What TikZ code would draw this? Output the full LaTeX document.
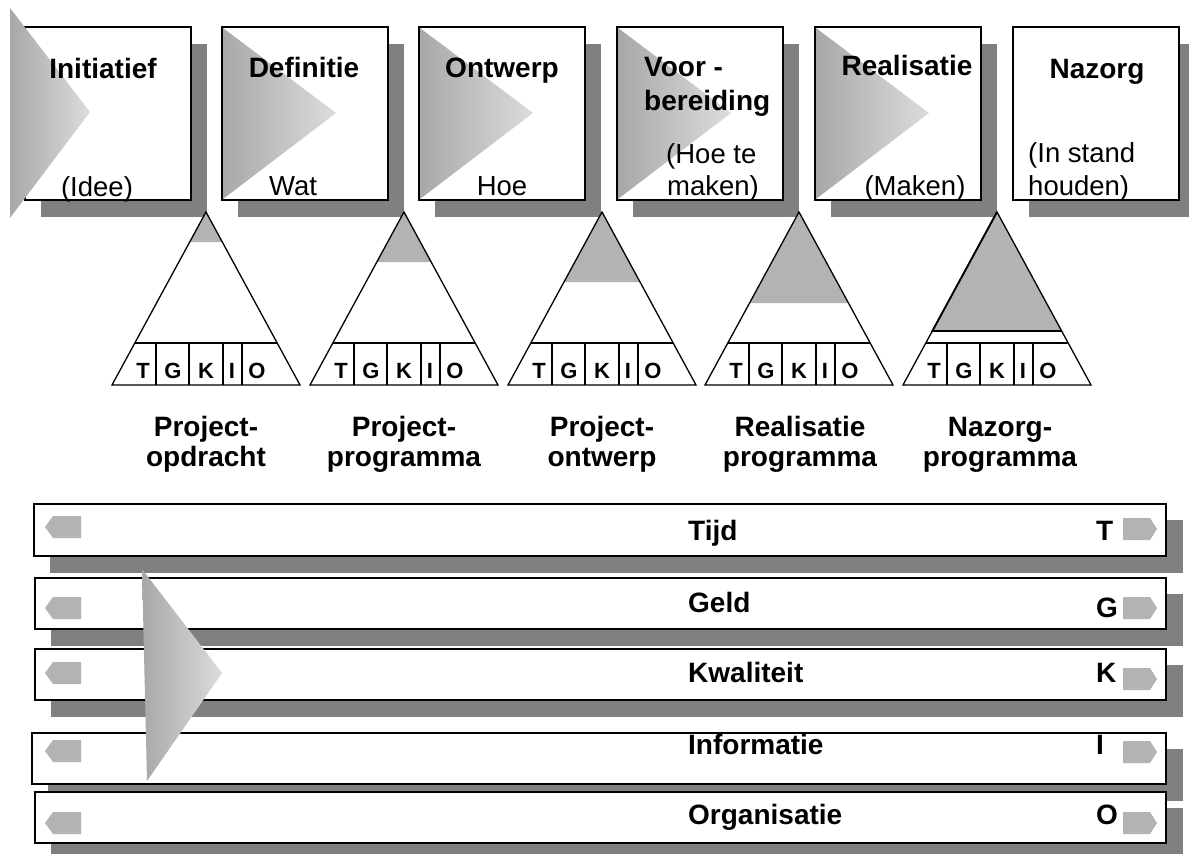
\documentclass[tikz,border=0pt]{standalone}
\usepackage{fontspec}
\setmainfont{Liberation Sans}
\definecolor{shadowgray}{RGB}{128,128,128}
\definecolor{fillgray}{RGB}{179,179,179}
\definecolor{gradL}{RGB}{168,168,168}
\definecolor{gradR}{RGB}{220,220,220}
\tikzset{
  shadowfill/.style={fill=shadowgray, draw=none},
  boxfill/.style={fill=white, draw=none},
  boxline/.style={draw=black, line width=1.5pt},
  barbox/.style={fill=white, draw=black, line width=1.8pt},
  gradtri/.style={left color=gradL, right color=gradR, draw=none},
  bigtxt/.style={font=\fontsize{28}{33}\selectfont\bfseries, inner sep=0},
  regtxt/.style={font=\fontsize{27.5}{33}\selectfont, inner sep=0},
  celltxt/.style={font=\fontsize{22}{26}\selectfont\bfseries, inner sep=0, anchor=base},
  pyrline/.style={draw=black, line width=1.3pt},
  tagfill/.style={fill=fillgray, draw=none},
}
\begin{document}
\begin{tikzpicture}[x=1pt,y=-1pt]
\useasboundingbox (0,0) rectangle (1189,854);
\clip (0,0) rectangle (1189,854);

% ---------- top phase boxes ----------
\foreach \bx in {25,222,419,617,815,1013}{
  \path[shadowfill] (\bx+16,44) rectangle (\bx+182,217);
  \path[boxfill] (\bx,27) rectangle (\bx+166,200);
}
% gradient arrows inside boxes 2-5
\foreach \bx in {222,419,617,815}{
  \shade[gradtri] (\bx+1,28) -- (\bx+114,113) -- (\bx+1,199) -- cycle;
}
\foreach \bx in {25,222,419,617,815,1013}{
  \path[boxline] (\bx,27) rectangle (\bx+166,200);
}
% first arrow sticks out of box 1
\shade[gradtri] (10,8) -- (90,112) -- (10,218) -- cycle;

% box texts
\node[bigtxt, anchor=base] (t1) at (103,78) {Initiatief};
\node[regtxt, anchor=base] (s1) at (97,196) {(Idee)};
\node[bigtxt, anchor=base] (t2) at (304,77) {Definitie};
\node[regtxt, anchor=base] (s2) at (293,195) {Wat};
\node[bigtxt, anchor=base] (t3) at (502,77) {Ontwerp};
\node[regtxt, anchor=base] (s3) at (502,195) {Hoe};
\node[bigtxt, anchor=base west] (t4a) at (644,76) {Voor -};
\node[bigtxt, anchor=base west] (t4b) at (644,110) {bereiding};
\node[regtxt, anchor=base west] (s4a) at (666,163) {(Hoe te};
\node[regtxt, anchor=base west] (s4b) at (667,195) {maken)};
\node[bigtxt, anchor=base] (t5) at (907,75) {Realisatie};
\node[regtxt, anchor=base] (s5) at (915,195) {(Maken)};
\node[bigtxt, anchor=base] (t6) at (1097,78) {Nazorg};
\node[regtxt, anchor=base west] (s6a) at (1028,162) {(In stand};
\node[regtxt, anchor=base west] (s6b) at (1028,195) {houden)};

% ---------- pyramids ----------
\foreach \pc/\pg/\pn in {206/242/1, 404/262/2, 602/282/3, 799/303/4, 997/331/5}{
  \path[fill=white] (\pc,212) -- (\pc-94,385) -- (\pc+94,385) -- cycle;
  \path[fill=fillgray] (\pc,212) -- ({\pc-94*(\pg-212)/173},\pg) -- ({\pc+94*(\pg-212)/173},\pg) -- cycle;
  \path[pyrline, line join=miter] (\pc,212) -- (\pc-94,385) -- (\pc+94,385) -- cycle;
  \path[pyrline] (\pc-71,343) -- (\pc+71,343);
  \foreach \pd in {-50,-17,17,36}{
    \path[pyrline] (\pc+\pd,343) -- (\pc+\pd,385);
  }
  \node[celltxt] (p\pn T) at (\pc-63,378) {T};
  \node[celltxt] (p\pn G) at (\pc-33,378) {G};
  \node[celltxt] (p\pn K) at (\pc,378) {K};
  \node[celltxt] (p\pn I) at (\pc+26,378) {I};
  \node[celltxt] (p\pn O) at (\pc+51,378) {O};
}
% outlined fill in the last pyramid
\path[pyrline, line width=1.8pt] (997,212) -- ({997-94*119/173},331) -- ({997+94*119/173},331);

% pyramid captions
\node[bigtxt, anchor=base] (c1a) at (206,436) {Project-};
\node[bigtxt, anchor=base] (c1b) at (206,466) {opdracht};
\node[bigtxt, anchor=base] (c2a) at (404,436) {Project-};
\node[bigtxt, anchor=base] (c2b) at (404,466) {programma};
\node[bigtxt, anchor=base] (c3a) at (602,436) {Project-};
\node[bigtxt, anchor=base] (c3b) at (602,466) {ontwerp};
\node[bigtxt, anchor=base] (c4a) at (800,436) {Realisatie};
\node[bigtxt, anchor=base] (c4b) at (800,466) {programma};
\node[bigtxt, anchor=base] (c5a) at (1000,436) {Nazorg-};
\node[bigtxt, anchor=base] (c5b) at (1000,466) {programma};

% ---------- bars ----------
\foreach \ya/\yb/\xl/\ylt/\yrt/\ytb/\ylb/\btxt/\blet/\bn in {504/556/34/516/518/540/540/Tijd/T/1, 578/629/35/597/597/612/617/Geld/G/2, 649/700/35/662/668/682/682/Kwaliteit/K/3, 733/784/32/740/741/754/754/Informatie/I/4, 792/843/35/812/812/824/824/Organisatie/O/5}{
  \path[shadowfill] (\xl+16,\ya+16) rectangle (1183,\yb+17);
  \path[barbox] (\xl,\ya) rectangle (1166,\yb);
  \path[tagfill] (81,\ylt) -- (53,\ylt) -- (45,\ylt+11) -- (53,\ylt+22) -- (81,\ylt+22) -- cycle;
  \path[tagfill] (1123,\yrt) -- (1150,\yrt) -- (1157,\yrt+11) -- (1150,\yrt+22) -- (1123,\yrt+22) -- cycle;
  \node[bigtxt, anchor=base west] (bar\bn) at (688,\ytb) {\btxt};
  \node[bigtxt, anchor=base west] (let\bn) at (1096,\ylb) {\blet};
}

% big arrow over the bars
\shade[gradtri] (142,569) -- (222,673) -- (147,781) -- cycle;
\end{tikzpicture}
\end{document}
